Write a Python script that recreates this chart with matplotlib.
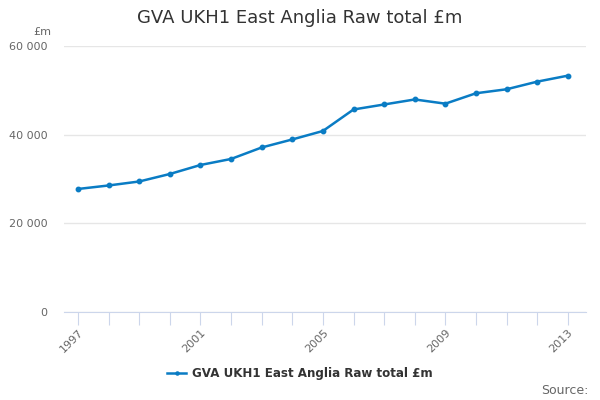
import numpy as np
import matplotlib
matplotlib.use("Agg")
import matplotlib.pyplot as plt

# GVA UKH1 East Anglia, raw total in £m
years = list(range(1997, 2014))
gva = [27750, 28540, 29440, 31130, 33160, 34520, 37110, 38920, 40830,
       45680, 46810, 47940, 46990, 49340, 50240, 51960, 53310]
label_years = [1997, 2001, 2005, 2009, 2013]
y_ticks = [0, 20000, 40000, 60000]
y_labels = ["0", "20 000", "40 000", "60 000"]

blue = "#0a7cc4"
grey_txt = "#666666"

fig = plt.figure(figsize=(6, 4), dpi=100)
ax = fig.add_axes([0.107, 0.22, 0.87, 0.665])

ax.plot(years, gva, color=blue, lw=1.8, marker="o", ms=3.2,
        label="GVA UKH1 East Anglia Raw total £m")

ax.set_ylim(0, 60000)
ax.set_xlim(1996.55, 2013.6)
ax.set_yticks(y_ticks)
ax.set_yticklabels(y_labels)
ax.set_xticks(years)
ax.set_xticklabels([str(y) if y in label_years else "" for y in years],
                   rotation=45, ha="right", rotation_mode="anchor")

ax.grid(axis="y", color="#e6e6e6", lw=1)
ax.set_axisbelow(True)
for s in ["top", "right", "left"]:
    ax.spines[s].set_visible(False)
ax.spines["bottom"].set_color("#ccd6eb")
ax.tick_params(axis="x", colors="#ccd6eb", length=9, labelcolor=grey_txt,
               labelsize=8, pad=2)
ax.tick_params(axis="y", length=0, labelcolor=grey_txt, labelsize=8, pad=12)

fig.text(0.5, 0.955, "GVA UKH1 East Anglia Raw total £m", ha="center",
         va="center", fontsize=13, color="#333333")
fig.text(0.055, 0.92, "£m", ha="left", va="center", fontsize=8, color=grey_txt)
fig.text(0.98, 0.025, "Source:", ha="right", va="center", fontsize=9,
         color=grey_txt)

leg = fig.legend(loc="center", bbox_to_anchor=(0.5, 0.065), frameon=False,
                 prop={"weight": "bold", "size": 8.6}, handlelength=1.6,
                 handletextpad=0.5, markerscale=0.7)
for t in leg.get_texts():
    t.set_color("#333333")

fig.savefig("out.png", dpi=100)
